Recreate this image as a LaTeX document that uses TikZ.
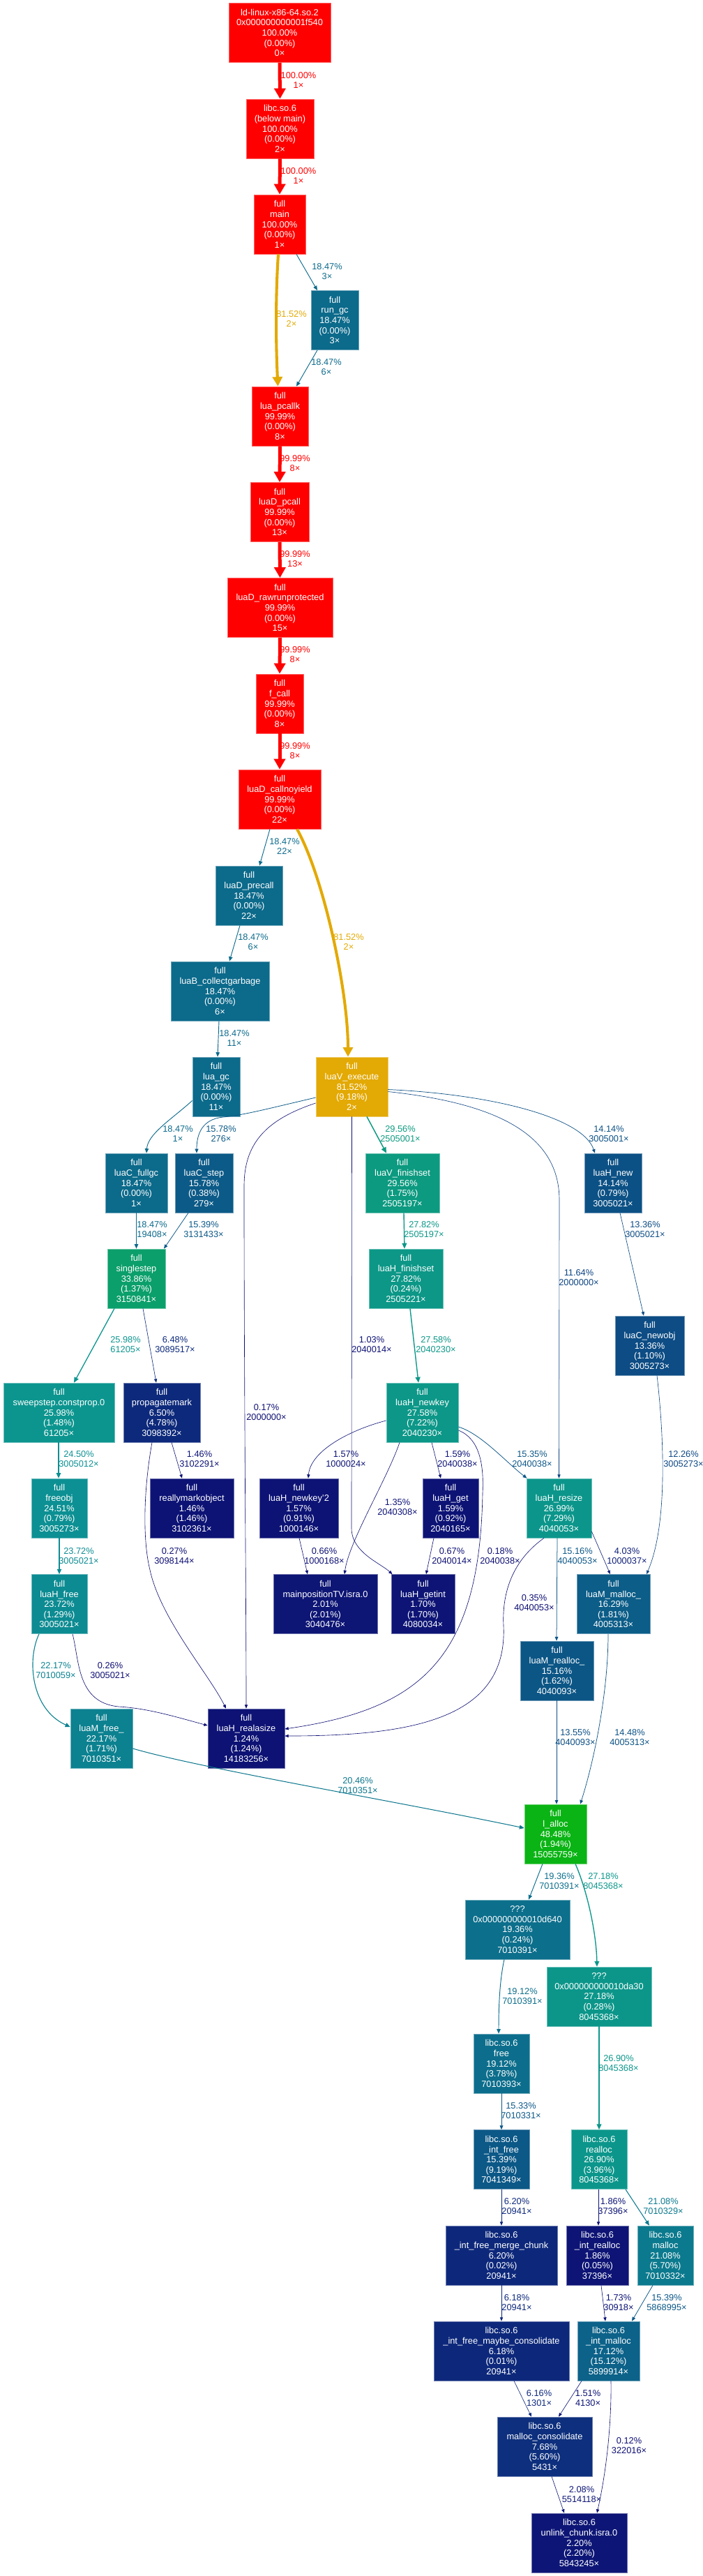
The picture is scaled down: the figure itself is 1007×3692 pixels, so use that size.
\documentclass[tikz,border=0pt]{standalone}
\usepackage{fontspec}
\setmainfont{Liberation Sans}
\usepackage{tikz}
\usetikzlibrary{arrows.meta}

% one rgb channel from a hue
\newcommand{\hrgb}[2]{%
  \pgfmathsetmacro{\hx}{mod(#1+1,1)}%
  \pgfmathsetmacro#2{\hx<1/6 ? \mA+(\mB-\mA)*\hx*6 : (\hx<1/2 ? \mB : (\hx<2/3 ? \mA+(\mB-\mA)*(2/3-\hx)*6 : \mA))}}
% colour and pen width from a weight between 0 and 1
\newcommand{\setw}[1]{%
  \pgfmathsetmacro{\wh}{(1-#1)*2/3}%
  \pgfmathsetmacro{\ws}{0.8+0.2*#1}%
  \pgfmathsetmacro{\wl}{0.25+0.25*#1}%
  \pgfmathsetmacro{\mB}{\wl*(1+\ws)}%
  \pgfmathsetmacro{\mA}{2*\wl-\mB}%
  \hrgb{\wh+1/3}{\wr}\hrgb{\wh}{\wg}\hrgb{\wh-1/3}{\wb}%
  \edef\wdef{\noexpand\definecolor{wc}{rgb}{\wr,\wg,\wb}}\wdef
  \pgfmathsetmacro{\epw}{max(4*#1,0.5)}%
  \pgfmathsetmacro{\elw}{1.25*\epw}%
  \pgfmathsetmacro{\eal}{7.5*sqrt(\epw)}%
  \pgfmathsetmacro{\eaw}{5*sqrt(\epw)+1.5*\epw}}
\newcommand{\nfont}{\fontsize{12.8}{14.6}\selectfont}

\tikzset{
  fn/.style={/utils/exec={\setw{#1}}, fill=wc, draw=wc!60!white, line width=0.75pt,
    text=white, align=center, inner sep=0pt, minimum height=85pt, font=\nfont},
  ed/.style={/utils/exec={\setw{#1}}, color=wc, line width=\elw pt,
    -{Triangle[length=\eal pt,width=\eaw pt]}},
  lbl/.style={align=center, inner sep=0pt, font=\nfont}
}

\begin{document}
\begin{tikzpicture}[x=1pt,y=1pt]
    \useasboundingbox (0,0) rectangle (1007,-3692);

    % main call chain
    \node[fn=1, minimum width=146pt] (ld) at (401,-47) {ld-linux-x86-64.so.2\\0x000000000001f540\\100.00\%\\(0.00\%)\\0×};
    \node[fn=1, minimum width=97pt] (libcmain) at (401.5,-184.5) {libc.so.6\\(below main)\\100.00\%\\(0.00\%)\\2×};
    \node[fn=1, minimum width=74pt] (main) at (401,-321.5) {full\\main\\100.00\%\\(0.00\%)\\1×};
    \node[fn=0.1847, minimum width=68pt] (rungc) at (480,-459) {full\\run\_gc\\18.47\%\\(0.00\%)\\3×};
    \node[fn=0.9999, minimum width=81pt] (pcallk) at (401.5,-596.5) {full\\lua\_pcallk\\99.99\%\\(0.00\%)\\8×};
    \node[fn=0.9999, minimum width=84pt] (dpcall) at (401,-734) {full\\luaD\_pcall\\99.99\%\\(0.00\%)\\13×};
    \node[fn=0.9999, minimum width=151pt] (rawrun) at (401.5,-871) {full\\luaD\_rawrunprotected\\99.99\%\\(0.00\%)\\15×};
    \node[fn=0.9999, minimum width=68pt] (fcall) at (401,-1008.5) {full\\f\_call\\99.99\%\\(0.00\%)\\8×};
    \node[fn=0.9999, minimum width=118pt] (callny) at (401,-1145.5) {full\\luaD\_callnoyield\\99.99\%\\(0.00\%)\\22×};

    % collector and interpreter
    \node[fn=0.1847, minimum width=96pt] (precall) at (357,-1283.5) {full\\luaD\_precall\\18.47\%\\(0.00\%)\\22×};
    \node[fn=0.1847, minimum width=141pt] (collect) at (315.5,-1420.5) {full\\luaB\_collectgarbage\\18.47\%\\(0.00\%)\\6×};
    \node[fn=0.1847, minimum width=68pt] (luagc) at (310,-1557.5) {full\\lua\_gc\\18.47\%\\(0.00\%)\\11×};
    \node[fn=0.8152, minimum width=103pt] (vexec) at (504.5,-1557.5) {full\\luaV\_execute\\81.52\%\\(9.18\%)\\2×};
    \node[fn=0.1847, minimum width=89pt] (fullgc) at (195.5,-1695.5) {full\\luaC\_fullgc\\18.47\%\\(0.00\%)\\1×};
    \node[fn=0.1578, minimum width=83pt] (cstep) at (292.5,-1695.5) {full\\luaC\_step\\15.78\%\\(0.38\%)\\279×};
    \node[fn=0.2956, minimum width=106pt] (vfinish) at (577,-1695.5) {full\\luaV\_finishset\\29.56\%\\(1.75\%)\\2505197×};
    \node[fn=0.1414, minimum width=82pt] (hnew) at (879,-1695.5) {full\\luaH\_new\\14.14\%\\(0.79\%)\\3005021×};
    \node[fn=0.3386, minimum width=83pt] (single) at (195.5,-1832.5) {full\\singlestep\\33.86\%\\(1.37\%)\\3150841×};
    \node[fn=0.2782, minimum width=106pt] (hfinish) at (582,-1832.5) {full\\luaH\_finishset\\27.82\%\\(0.24\%)\\2505221×};
    \node[fn=0.1336, minimum width=99pt] (newobj) at (931.5,-1928.5) {full\\luaC\_newobj\\13.36\%\\(1.10\%)\\3005273×};
    \node[fn=0.2598, minimum width=159pt] (sweep) at (84.5,-2024.5) {full\\sweepstep.constprop.0\\25.98\%\\(1.48\%)\\61205×};
    \node[fn=0.0650, minimum width=110pt] (propag) at (232,-2024.5) {full\\propagatemark\\6.50\%\\(4.78\%)\\3098392×};
    \node[fn=0.2758, minimum width=103pt] (newkey) at (605.5,-2024.5) {full\\luaH\_newkey\\27.58\%\\(7.22\%)\\2040230×};
    \node[fn=0.2451, minimum width=80pt] (freeobj) at (85,-2161.5) {full\\freeobj\\24.51\%\\(0.79\%)\\3005273×};
    \node[fn=0.0146, minimum width=120pt] (rmark) at (275,-2161.5) {full\\reallymarkobject\\1.46\%\\(1.46\%)\\3102361×};
    \node[fn=0.0157, minimum width=113pt] (newkeyb) at (428.5,-2161.5) {full\\luaH\_newkey'2\\1.57\%\\(0.91\%)\\1000146×};
    \node[fn=0.0159, minimum width=80pt] (hget) at (646,-2161.5) {full\\luaH\_get\\1.59\%\\(0.92\%)\\2040165×};
    \node[fn=0.2699, minimum width=93pt] (resize) at (801.5,-2161.5) {full\\luaH\_resize\\26.99\%\\(7.29\%)\\4040053×};
    \node[fn=0.2372, minimum width=80pt] (hfree) at (85,-2299) {full\\luaH\_free\\23.72\%\\(1.29\%)\\3005021×};
    \node[fn=0.0201, minimum width=149pt] (mainpos) at (466.5,-2299) {full\\mainpositionTV.isra.0\\2.01\%\\(2.01\%)\\3040476×};
    \node[fn=0.0170, minimum width=91pt] (getint) at (606.5,-2299) {full\\luaH\_getint\\1.70\%\\(1.70\%)\\4080034×};
    \node[fn=0.1629, minimum width=105pt] (mmalloc) at (879.5,-2299) {full\\luaM\_malloc\_\\16.29\%\\(1.81\%)\\4005313×};
    \node[fn=0.1516, minimum width=105pt] (mrealloc) at (798.5,-2394.5) {full\\luaM\_realloc\_\\15.16\%\\(1.62\%)\\4040093×};
    \node[fn=0.2217, minimum width=89pt] (mfree) at (145.5,-2491.5) {full\\luaM\_free\_\\22.17\%\\(1.71\%)\\7010351×};
    \node[fn=0.0124, minimum width=110pt] (realasize) at (353,-2491.5) {full\\luaH\_realasize\\1.24\%\\(1.24\%)\\14183256×};
    \node[fn=0.4848, minimum width=89pt] (lalloc) at (796.5,-2628.5) {full\\l\_alloc\\48.48\%\\(1.94\%)\\15055759×};

    % libc allocator
    \node[fn=0.1936, minimum width=150pt] (uda) at (742,-2765.5) {???\\0x000000000010d640\\19.36\%\\(0.24\%)\\7010391×};
    \node[fn=0.2718, minimum width=150pt] (udb) at (859,-2861.5) {???\\0x000000000010da30\\27.18\%\\(0.28\%)\\8045368×};
    \node[fn=0.1912, minimum width=80pt] (cfree) at (719,-2957.5) {libc.so.6\\free\\19.12\%\\(3.78\%)\\7010393×};
    \node[fn=0.1539, minimum width=80pt] (intfree) at (719,-3095) {libc.so.6\\\_int\_free\\15.39\%\\(9.19\%)\\7041349×};
    \node[fn=0.2690, minimum width=80pt] (crealloc) at (859,-3095) {libc.so.6\\realloc\\26.90\%\\(3.96\%)\\8045368×};
    \node[fn=0.0620, minimum width=160pt] (merge) at (719,-3232.5) {libc.so.6\\\_int\_free\_merge\_chunk\\6.20\%\\(0.02\%)\\20941×};
    \node[fn=0.0186, minimum width=89pt] (intrealloc) at (856.5,-3232.5) {libc.so.6\\\_int\_realloc\\1.86\%\\(0.05\%)\\37396×};
    \node[fn=0.2108, minimum width=80pt] (cmalloc) at (954,-3232.5) {libc.so.6\\malloc\\21.08\%\\(5.70\%)\\7010332×};
    \node[fn=0.0618, minimum width=194pt] (maybe) at (719,-3369.5) {libc.so.6\\\_int\_free\_maybe\_consolidate\\6.18\%\\(0.01\%)\\20941×};
    \node[fn=0.1712, minimum width=89pt] (intmalloc) at (872.5,-3369.5) {libc.so.6\\\_int\_malloc\\17.12\%\\(15.12\%)\\5899914×};
    \node[fn=0.0768, minimum width=136pt] (mcons) at (781,-3506.5) {libc.so.6\\malloc\_consolidate\\7.68\%\\(5.60\%)\\5431×};
    \node[fn=0.0220, minimum width=137pt] (unlink) at (830.5,-3644.5) {libc.so.6\\unlink\_chunk.isra.0\\2.20\%\\(2.20\%)\\5843245×};

    % edges of the main chain
    \draw[ed=1] (ld.south) -- (libcmain.north) node[lbl] (l1) at (428,-115) {100.00\%\\1×};
    \draw[ed=1] (libcmain.south) -- (main.north) node[lbl] (l2) at (428,-252) {100.00\%\\1×};
    \draw[ed=0.8152] ([xshift=-2pt]main.south) .. controls +(-4,-60) and +(-3,60) .. ([xshift=-3pt]pcallk.north) node[lbl] (l3) at (418,-457) {81.52\%\\2×};
    \draw[ed=0.1847] ([xshift=24pt]main.south) -- ([xshift=-25pt]rungc.north) node[lbl] (l4) at (469,-389) {18.47\%\\3×};
    \draw[ed=0.1847] ([xshift=-25pt]rungc.south) -- ([xshift=23.5pt]pcallk.north) node[lbl] (l5) at (468,-526) {18.47\%\\6×};
    \draw[ed=0.9999] (pcallk.south) -- (dpcall.north) node[lbl] (l6) at (423,-664) {99.99\%\\8×};
    \draw[ed=0.9999] (dpcall.south) -- (rawrun.north) node[lbl] (l7) at (423,-801) {99.99\%\\13×};
    \draw[ed=0.9999] (rawrun.south) -- (fcall.north) node[lbl] (l8) at (423,-938) {99.99\%\\8×};
    \draw[ed=0.9999] (fcall.south) -- (callny.north) node[lbl] (l9) at (423,-1076) {99.99\%\\8×};
    \draw[ed=0.1847] ([xshift=-14pt]callny.south) -- ([xshift=15pt]precall.north) node[lbl] (l10) at (408,-1213) {18.47\%\\22×};
    \draw[ed=0.8152] ([xshift=25pt]callny.south) .. controls (465,-1260) and (499,-1420) .. ([xshift=-5.5pt]vexec.north) node[lbl] (l11) at (500,-1350) {81.52\%\\2×};
    \draw[ed=0.1847] ([xshift=-13pt]precall.south) -- ([xshift=13.5pt]collect.north) node[lbl] (l12) at (363,-1350) {18.47\%\\6×};
    \draw[ed=0.1847] ([xshift=-1.5pt]collect.south) -- ([xshift=2pt]luagc.north) node[lbl] (l13) at (336,-1488) {18.47\%\\11×};

    % edges out of lua_gc and luaV_execute
    \draw[ed=0.1847] ([yshift=-20pt]luagc.west) .. controls (245,-1605) and (212,-1625) .. ([xshift=14.5pt]fullgc.north) node[lbl] (l14) at (255,-1625) {18.47\%\\1×};
    \draw[ed=0.1578] ([yshift=-15.5pt]vexec.west) .. controls (380,-1590) and (350,-1598) .. (320,-1601) .. controls (290,-1604) and (282,-1625) .. ([xshift=-10.5pt]cstep.north) node[lbl] (l15) at (317,-1625) {15.78\%\\276×};
    \draw[ed=0.0017] ([yshift=-23.5pt]vexec.west) .. controls (380,-1605) and (350,-1640) .. (350,-1700) .. controls (350,-2000) and (353,-2300) .. (realasize.north) node[lbl] (l16) at (382,-2024) {0.17\%\\2000000×};
    \draw[ed=0.0103] (vexec.south) -- (504,-2190) .. controls (504,-2225) and (545,-2240) .. ([xshift=-44pt]getint.north) node[lbl] (l17) at (533,-1927) {1.03\%\\2040014×};
    \draw[ed=0.2956] ([xshift=21.5pt]vexec.south) -- ([xshift=-23pt]vfinish.north) node[lbl] (l18) at (574,-1625) {29.56\%\\2505001×};
    \draw[ed=0.1164] ([yshift=-7pt]vexec.east) .. controls (700,-1580) and (802,-1620) .. (802,-1720) -- (resize.north) node[lbl] (l19) at (830,-1831) {11.64\%\\2000000×};
    \draw[ed=0.1414] ([yshift=-4pt]vexec.east) .. controls (700,-1568) and (835,-1600) .. ([xshift=-26pt]hnew.north) node[lbl] (l20) at (873,-1625) {14.14\%\\3005001×};
    \draw[ed=0.1847] (fullgc.south) -- (single.north) node[lbl] (l21) at (218,-1762) {18.47\%\\19408×};
    \draw[ed=0.1539] ([xshift=-22.5pt]cstep.south) -- ([xshift=39.5pt]single.north) node[lbl] (l22) at (292,-1762) {15.39\%\\3131433×};
    \draw[ed=0.2782] ([xshift=2pt]vfinish.south) -- ([xshift=-2pt]hfinish.north) node[lbl] (l23) at (608,-1762) {27.82\%\\2505197×};
    \draw[ed=0.1336] ([xshift=10pt]hnew.south) -- ([xshift=-8.5pt]newobj.north) node[lbl] (l24) at (925,-1762) {13.36\%\\3005021×};
    \draw[ed=0.2598] ([xshift=-31.5pt]single.south) -- ([xshift=21.5pt]sweep.north) node[lbl] (l25) at (180,-1927) {25.98\%\\61205×};
    \draw[ed=0.0648] ([xshift=9.5pt]single.south) -- ([xshift=-8pt]propag.north) node[lbl] (l26) at (251,-1927) {6.48\%\\3089517×};
    \draw[ed=0.2758] ([xshift=6pt]hfinish.south) -- ([xshift=-5.5pt]newkey.north) node[lbl] (l27) at (625,-1927) {27.58\%\\2040230×};
    \draw[ed=0.1226] ([xshift=10.5pt]newobj.south) .. controls (950,-2040) and (960,-2180) .. ([xshift=47.5pt]mmalloc.north) node[lbl] (l28) at (980,-2091) {12.26\%\\3005273×};

    % table and gc edges
    \draw[ed=0.2450] ([xshift=-0.5pt]sweep.south) -- ([xshift=-1pt]freeobj.north) node[lbl] (l29) at (113,-2091) {24.50\%\\3005012×};
    \draw[ed=0.2372] (freeobj.south) -- (hfree.north) node[lbl] (l29b) at (113,-2230) {23.72\%\\3005021×};
    \draw[ed=0.0146] ([xshift=14pt]propag.south) -- ([xshift=-14pt]rmark.north) node[lbl] (l30) at (286,-2091) {1.46\%\\3102291×};
    \draw[ed=0.0027] ([xshift=-14pt]propag.south) .. controls (205,-2140) and (205,-2210) .. (215,-2250) .. controls (230,-2320) and (300,-2400) .. ([xshift=-29pt]realasize.north) node[lbl] (l31) at (250,-2230) {0.27\%\\3098144×};
    \draw[ed=0.0157] ([yshift=-11.5pt]newkey.west) .. controls (500,-2050) and (445,-2080) .. ([xshift=13.5pt]newkeyb.north) node[lbl] (l32) at (496,-2091) {1.57\%\\1000024×};
    \draw[ed=0.0135] ([xshift=-32.5pt]newkey.south) .. controls (555,-2120) and (500,-2210) .. ([xshift=27.5pt]mainpos.north) node[lbl] (l33) at (570,-2160) {1.35\%\\2040308×};
    \draw[ed=0.0159] ([xshift=13.5pt]newkey.south) -- ([xshift=-14pt]hget.north) node[lbl] (l34) at (656,-2091) {1.59\%\\2040038×};
    \draw[ed=0.1535] ([yshift=-20.5pt]newkey.east) .. controls (690,-2055) and (725,-2095) .. ([xshift=-46pt]resize.north) node[lbl] (l35) at (763,-2091) {15.35\%\\2040038×};
    \draw[ed=0.0018] ([yshift=-25.5pt]newkey.east) .. controls (688,-2062) and (694,-2100) .. (692,-2140) .. controls (688,-2380) and (600,-2450) .. ([yshift=13.5pt]realasize.east) node[lbl] (l36) at (717,-2230) {0.18\%\\2040038×};
    \draw[ed=0.0066] ([xshift=0.5pt]newkeyb.south) -- ([xshift=-25.5pt]mainpos.north) node[lbl] (l37) at (465,-2230) {0.66\%\\1000168×};
    \draw[ed=0.0067] ([xshift=-24pt]hget.south) -- ([xshift=4.5pt]getint.north) node[lbl] (l38) at (648,-2230) {0.67\%\\2040014×};
    \draw[ed=0.1516] ([xshift=-2.5pt]resize.south) -- ([xshift=-0.5pt]mrealloc.north) node[lbl] (l39) at (828,-2230) {15.16\%\\4040053×};
    \draw[ed=0.0403] ([yshift=-33.5pt]resize.east) -- ([xshift=-4.5pt]mmalloc.north) node[lbl] (l40) at (899,-2230) {4.03\%\\1000037×};
    \draw[ed=0.0035] ([xshift=-21.5pt]resize.south) .. controls (730,-2240) and (720,-2290) .. (722,-2330) .. controls (728,-2460) and (600,-2488) .. ([yshift=3.5pt]realasize.east) node[lbl] (l41) at (766,-2297) {0.35\%\\4040053×};
    \draw[ed=0.2217] ([xshift=-29pt]hfree.south) .. controls (38,-2380) and (45,-2450) .. ([yshift=16.5pt]mfree.west) node[lbl] (l42) at (80,-2394) {22.17\%\\7010059×};
    \draw[ed=0.0026] ([xshift=19pt]hfree.south) .. controls (114,-2380) and (110,-2440) .. (170,-2446) .. controls (210,-2448) and (250,-2460) .. ([yshift=18.5pt]realasize.west) node[lbl] (l43) at (158,-2394) {0.26\%\\3005021×};
    \draw[ed=0.2046] ([yshift=-14.5pt]mfree.east) .. controls (290,-2535) and (560,-2580) .. ([yshift=8.5pt]lalloc.west) node[lbl] (l44) at (513,-2559) {20.46\%\\7010351×};
    \draw[ed=0.1355] ([xshift=-0.5pt]mrealloc.south) -- ([xshift=1.5pt]lalloc.north) node[lbl] (l45) at (825,-2490) {13.55\%\\4040093×};
    \draw[ed=0.1448] ([xshift=-7.5pt]mmalloc.south) .. controls (872,-2430) and (850,-2530) .. ([xshift=35.5pt]lalloc.north) node[lbl] (l46) at (903,-2490) {14.48\%\\4005313×};

    % allocator edges
    \draw[ed=0.1936] ([xshift=-18.5pt]lalloc.south) -- ([xshift=16pt]uda.north) node[lbl] (l47) at (802,-2696) {19.36\%\\7010391×};
    \draw[ed=0.2718] ([xshift=28.5pt]lalloc.south) .. controls (842,-2710) and (855,-2770) .. ([xshift=-3pt]udb.north) node[lbl] (l48) at (865,-2696) {27.18\%\\8045368×};
    \draw[ed=0.1912] ([xshift=-19pt]uda.south) .. controls (716,-2840) and (715,-2880) .. ([xshift=-4pt]cfree.north) node[lbl] (l49) at (749,-2861) {19.12\%\\7010391×};
    \draw[ed=0.2690] (udb.south) -- (crealloc.north) node[lbl] (l50) at (887,-2957) {26.90\%\\8045368×};
    \draw[ed=0.1533] (cfree.south) -- (intfree.north) node[lbl] (l51) at (747,-3025) {15.33\%\\7010331×};
    \draw[ed=0.0620] (intfree.south) -- (merge.north) node[lbl] (l52) at (741,-3162) {6.20\%\\20941×};
    \draw[ed=0.0186] ([xshift=-1pt]crealloc.south) -- ([xshift=1.5pt]intrealloc.north) node[lbl] (l53) at (879,-3162) {1.86\%\\37396×};
    \draw[ed=0.2108] ([xshift=38pt]crealloc.south) -- ([xshift=-23pt]cmalloc.north) node[lbl] (l54) at (951,-3162) {21.08\%\\7010329×};
    \draw[ed=0.0618] (merge.south) -- (maybe.north) node[lbl] (l55) at (741,-3300) {6.18\%\\20941×};
    \draw[ed=0.0173] ([xshift=5.5pt]intrealloc.south) -- ([xshift=-4.5pt]intmalloc.north) node[lbl] (l56) at (887,-3300) {1.73\%\\30918×};
    \draw[ed=0.1539] ([xshift=-18pt]cmalloc.south) -- ([xshift=33.5pt]intmalloc.north) node[lbl] (l57) at (956,-3300) {15.39\%\\5868995×};
    \draw[ed=0.0616] ([xshift=18pt]maybe.south) -- ([xshift=-19pt]mcons.north) node[lbl] (l58) at (773,-3437) {6.16\%\\1301×};
    \draw[ed=0.0151] ([xshift=-38.5pt]intmalloc.south) -- ([xshift=20pt]mcons.north) node[lbl] (l59) at (843,-3437) {1.51\%\\4130×};
    \draw[ed=0.0012] ([xshift=3.5pt]intmalloc.south) .. controls (877,-3470) and (870,-3540) .. ([xshift=25.5pt]unlink.north) node[lbl] (l60) at (902,-3505) {0.12\%\\322016×};
    \draw[ed=0.0208] ([xshift=10pt]mcons.south) -- ([xshift=-21.5pt]unlink.north) node[lbl] (l61) at (834,-3575) {2.08\%\\5514118×};
\end{tikzpicture}
\end{document}
